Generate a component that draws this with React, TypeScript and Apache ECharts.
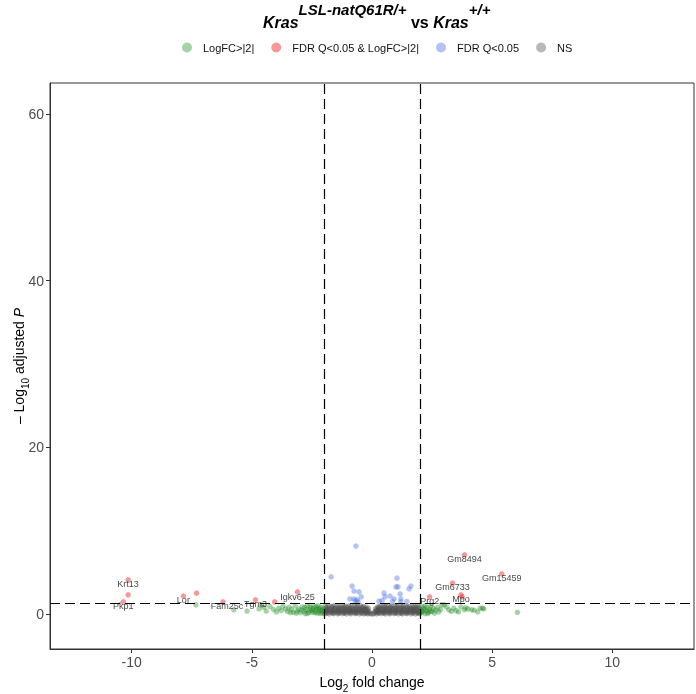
import React, { useEffect, useRef } from "react";
import * as echarts from "echarts";

// Tick labels
const xTicks = [-10, -5, 0, 5, 10];
const yTicks = [0, 20, 40, 60];

// Legend categories
const catGreen = "LogFC>|2|";
const catRed = "FDR Q<0.05 & LogFC>|2|";
const catBlue = "FDR Q<0.05";
const catGrey = "NS";

// Significant (red) points
const redX = [-10.15, -10.15, -10.35, -7.85, -7.3, -6.2, -4.85, -4.05, -3.1, 3.85, 5.4, 3.35, 3.7, 3.75, 2.4];
const redY = [4.1, 2.3, 1.45, 2.15, 2.5, 1.45, 1.7, 1.45, 2.65, 7.1, 4.8, 3.7, 2.3, 2.05, 2.05];
const redNames = ["Krt13", "", "Pkp1", "Lor", "", "Fam25c", "Tgm3", "", "Igkv6-25", "Gm8494", "Gm15459", "Gm6733", "Mpo", "", "Prg2"];

// FDR only (blue)
const bluePoints = [
  [-0.67, 8.15], [-1.7, 4.45], [-0.83, 3.35], [-0.75, 2.75], [-0.54, 2.65], [-0.92, 1.8], [-0.75, 1.8],
  [-0.62, 1.7], [-0.7, 1.55], [-0.45, 2.05], [-0.58, 1.45], [1.04, 4.3], [1.0, 3.25], [1.08, 3.25],
  [1.62, 3.35], [1.54, 3.0], [0.5, 2.5], [0.75, 2.15], [1.17, 2.4], [0.29, 1.55], [0.54, 2.05],
  [0.92, 1.8], [1.2, 1.8], [1.2, 1.45], [0.42, 1.6], [1.45, 1.5], [0.85, 1.5],
];

// LogFC only (green)
const greenPoints = [
  [-7.33, 1.1], [-5.75, 0.5], [-5.2, 0.35], [-4.7, 0.6], [-4.6, 1.05], [-4.5, 0.8], [-4.4, 0.35],
  [-4.25, 0.9], [-4.1, 0.55], [-3.98, 0.25], [-3.88, 0.7], [-3.78, 0.4], [-3.7, 0.95], [-3.6, 0.6],
  [-3.52, 0.3], [-3.45, 0.8], [-3.35, 0.55], [-3.28, 0.2], [-3.2, 0.95], [-3.12, 0.35], [-3.05, 0.6],
  [-2.98, 0.15], [-2.9, 0.85], [-2.83, 0.3], [-2.75, 0.5], [-2.7, 1.0], [-2.62, 0.2], [-2.55, 0.7],
  [-2.5, 0.4], [-2.42, 0.9], [-2.38, 0.15], [-2.35, 0.35], [-2.3, 0.6], [-2.25, 1.0], [-2.2, 0.25],
  [-2.15, 0.05], [-2.12, 0.8], [-2.1, 0.45], [-2.05, 0.1], [-2.05, 0.65], [-2.18, 0.5], [-2.28, 0.1],
  [-2.45, 0.6], [-2.6, 0.45], [-2.68, 0.05], [-2.8, 0.75], [-2.95, 0.45], [-3.15, 0.1], [-3.4, 0.15],
  [-2.08, 0.3], [-2.22, 0.7], [-2.33, 0.85], [-2.48, 0.2], [-2.58, 0.9], [-2.78, 0.05],
  [2.02, 0.1], [2.05, 0.5], [2.08, 0.9], [2.12, 0.3], [2.15, 0.7], [2.2, 0.05], [2.22, 1.0], [2.27, 0.4],
  [2.3, 0.75], [2.35, 0.2], [2.4, 0.55], [2.45, 0.95], [2.5, 0.3], [2.55, 0.65], [2.6, 0.1], [2.65, 0.45],
  [2.72, 0.8], [2.78, 0.25], [2.85, 0.55], [2.9, 1.1], [3.0, 1.1], [3.1, 0.85], [3.2, 0.5], [3.3, 0.3],
  [3.4, 0.7], [3.5, 0.4], [3.6, 0.25], [3.7, 0.85], [3.85, 0.5], [3.9, 0.75], [4.0, 0.6], [4.15, 0.5],
  [4.25, 0.45], [4.4, 0.25], [4.5, 0.7], [4.6, 0.7], [4.65, 0.6], [6.05, 0.2],
  [2.06, 0.25], [2.18, 0.55], [2.32, 0.05], [2.42, 0.3],
];

// Not significant (grey)
const greyPoints = [
  [-1.95, 0.92], [-1.82, 0.98], [-1.7, 0.9], [-1.58, 1.0], [-1.46, 0.95], [-1.33, 0.88], [-1.21, 1.02],
  [-1.1, 0.92], [-0.97, 0.98], [-0.85, 0.9], [-0.72, 1.04], [-0.6, 0.95], [-0.48, 1.0], [-0.36, 0.9],
  [-0.25, 0.85], [-0.15, 0.7], [0.14, 0.65], [0.24, 0.88], [0.35, 0.95], [0.47, 1.0], [0.58, 0.9],
  [0.7, 1.02], [0.82, 0.94], [0.94, 0.98], [1.06, 0.9], [1.18, 1.04], [1.3, 0.92], [1.42, 1.0],
  [1.55, 0.88], [1.67, 0.96], [1.79, 0.9], [1.9, 1.0],
  [-1.88, 0.82], [-1.64, 0.85], [-1.4, 0.8], [-1.16, 0.84], [-0.92, 0.8], [-0.66, 0.86], [-0.42, 0.8],
  [0.28, 0.78], [0.52, 0.84], [0.76, 0.8], [1.0, 0.86], [1.24, 0.8], [1.48, 0.84], [1.72, 0.8], [1.95, 0.85],
  [-1.9, 0.67], [-1.76, 0.63], [-1.64, 0.7], [-1.52, 0.65], [-1.4, 0.62], [-1.27, 0.69], [-1.15, 0.65],
  [-1.03, 0.71], [-0.91, 0.63], [-0.79, 0.67], [-0.66, 0.65], [-0.54, 0.7], [-0.42, 0.62], [-0.3, 0.65],
  [-0.2, 0.58], [0.2, 0.56], [0.3, 0.65], [0.41, 0.69], [0.53, 0.63], [0.64, 0.67], [0.76, 0.71],
  [0.88, 0.65], [1.0, 0.62], [1.12, 0.69], [1.24, 0.65], [1.36, 0.7], [1.49, 0.63], [1.61, 0.67],
  [1.73, 0.65], [1.85, 0.69], [1.97, 0.63],
  [-1.84, 0.55], [-1.58, 0.52], [-1.32, 0.56], [-1.06, 0.53], [-0.8, 0.55], [-0.55, 0.52], [-0.3, 0.54],
  [0.33, 0.52], [0.58, 0.55], [0.83, 0.53], [1.08, 0.56], [1.33, 0.52], [1.58, 0.55], [1.83, 0.53],
  [-1.97, 0.42], [-1.85, 0.46], [-1.73, 0.4], [-1.61, 0.44], [-1.49, 0.47], [-1.37, 0.4], [-1.25, 0.44],
  [-1.13, 0.42], [-1.01, 0.46], [-0.89, 0.39], [-0.77, 0.44], [-0.65, 0.42], [-0.53, 0.47], [-0.41, 0.4],
  [-0.29, 0.42], [-0.18, 0.36], [-0.12, 0.3], [0.11, 0.28], [0.17, 0.38], [0.27, 0.42], [0.39, 0.45],
  [0.5, 0.4], [0.62, 0.44], [0.74, 0.42], [0.86, 0.47], [0.97, 0.39], [1.09, 0.44], [1.21, 0.42],
  [1.33, 0.46], [1.45, 0.4], [1.57, 0.44], [1.69, 0.42], [1.81, 0.45], [1.93, 0.39],
  [-1.9, 0.32], [-1.66, 0.3], [-1.42, 0.33], [-1.18, 0.31], [-0.94, 0.32], [-0.7, 0.3], [-0.46, 0.33],
  [0.26, 0.31], [0.5, 0.32], [0.74, 0.3], [0.98, 0.33], [1.22, 0.31], [1.46, 0.32], [1.7, 0.3], [1.94, 0.33],
  [-1.93, 0.2], [-1.8, 0.23], [-1.68, 0.18], [-1.55, 0.22], [-1.43, 0.2], [-1.31, 0.24], [-1.19, 0.18],
  [-1.07, 0.21], [-0.95, 0.2], [-0.83, 0.23], [-0.71, 0.18], [-0.59, 0.22], [-0.47, 0.2], [-0.35, 0.24],
  [-0.23, 0.18], [-0.14, 0.16], [0.13, 0.15], [0.22, 0.2], [0.33, 0.23], [0.45, 0.18], [0.56, 0.21],
  [0.68, 0.2], [0.8, 0.24], [0.91, 0.18], [1.03, 0.22], [1.15, 0.2], [1.27, 0.23], [1.39, 0.18],
  [1.51, 0.21], [1.63, 0.2], [1.75, 0.24], [1.87, 0.18], [1.98, 0.22],
  [-1.86, 0.1], [-1.62, 0.11], [-1.38, 0.09], [-1.14, 0.1], [-0.9, 0.12], [-0.66, 0.09], [-0.42, 0.1],
  [-0.26, 0.08], [0.28, 0.1], [0.5, 0.09], [0.74, 0.11], [0.98, 0.1], [1.22, 0.08], [1.46, 0.11],
  [1.7, 0.1], [1.92, 0.09],
  [-1.96, 0.02], [-1.78, 0.0], [-1.6, 0.03], [-1.42, 0.01], [-1.24, 0.04], [-1.06, 0.0], [-0.88, 0.02],
  [-0.7, 0.03], [-0.52, 0.0], [-0.34, 0.02], [-0.18, 0.01], [-0.07, 0.03], [0.0, 0.0], [0.06, 0.02],
  [0.19, 0.01], [0.37, 0.03], [0.55, 0.0], [0.73, 0.02], [0.91, 0.04], [1.09, 0.01], [1.27, 0.0],
  [1.45, 0.03], [1.63, 0.02], [1.81, 0.0], [1.97, 0.03],
];

const labelOffsets: Record<string, number[]> = {
  Krt13: [0, 4], Pkp1: [0, 4], Lor: [0, 4], Fam25c: [4, 4], Tgm3: [0, 4], "Igkv6-25": [0, 5],
  Gm8494: [0, 4], Gm15459: [0, 4], Gm6733: [0, 4], Mpo: [0, 4], Prg2: [0, 4],
};

const COL_GREY = "rgba(77,77,77,0.5)";
const COL_GREEN = "rgba(34,139,34,0.5)";
const COL_BLUE = "rgba(65,105,225,0.5)";
const COL_RED = "rgba(238,0,0,0.5)";

export default function App() {
  const ref = useRef<HTMLDivElement>(null);
  useEffect(() => {
    if (!ref.current) return;
    const chart = echarts.init(ref.current, undefined, { renderer: "svg" });
    const font = "Liberation Sans, Arial, sans-serif";
    const redData = redX.map((x, i) => {
      const name = redNames[i];
      return {
        value: [x, redY[i]],
        name,
        label: name
          ? {
              show: true,
              formatter: name,
              position: "inside",
              offset: labelOffsets[name] || [0, 4],
              color: "#111",
              fontSize: 9,
              fontFamily: font,
            }
          : { show: false },
      };
    });
    const sym = 5.5;
    chart.setOption({
      animation: false,
      title: {
        text: "{a|Kras}{s|LSL-natQ61R/+}{b| vs }{a|Kras}{s|+/+}",
        left: 258,
        top: -3,
        textStyle: {
          rich: {
            a: { fontSize: 16, fontWeight: "bold", fontStyle: "italic", fontFamily: font, color: "#000", verticalAlign: "bottom", lineHeight: 28 },
            b: { fontSize: 16, fontWeight: "bold", fontFamily: font, color: "#000", verticalAlign: "bottom", lineHeight: 28 },
            s: { fontSize: 15, fontWeight: "bold", fontStyle: "italic", fontFamily: font, color: "#000", verticalAlign: "top", lineHeight: 28 },
          },
        },
      },
      legend: {
        data: [catGreen, catRed, catBlue, catGrey],
        left: 177,
        top: 37,
        icon: "circle",
        itemWidth: 10,
        itemHeight: 10,
        itemGap: 17,
        textStyle: { fontSize: 11, color: "#111", fontFamily: font, padding: [0, 0, 0, 6] },
      },
      grid: {
        left: 50, right: 2, top: 83, bottom: 45, show: true, borderColor: "#333", borderWidth: 1,
        containLabel: false, outerBoundsMode: "none",
      },
      xAxis: {
        type: "value",
        min: -13.4,
        max: 13.4,
        name: "Log{s|2} fold change",
        nameLocation: "middle",
        nameGap: 22,
        nameTextStyle: {
          fontSize: 14,
          color: "#000",
          fontFamily: font,
          rich: {
            s: { fontSize: 10, fontFamily: font, color: "#000", verticalAlign: "bottom", lineHeight: 22 },
          },
        },
        splitLine: { show: false },
        axisLine: { show: true, onZero: false, lineStyle: { color: "#333" } },
        axisTick: { show: true, length: 4, customValues: xTicks, lineStyle: { color: "#333" } },
        axisLabel: { customValues: xTicks, fontSize: 14, color: "#4d4d4d", fontFamily: font, margin: 6 },
      },
      yAxis: {
        type: "value",
        min: -4.2,
        max: 63.7,
        name: "– Log{s|10} adjusted {i|P}",
        nameLocation: "middle",
        nameGap: 20,
        nameMoveOverlap: false,
        nameTextStyle: {
          fontSize: 14,
          color: "#000",
          fontFamily: font,
          rich: {
            s: { fontSize: 10, fontFamily: font, color: "#000", verticalAlign: "bottom", lineHeight: 22 },
            i: { fontSize: 14, fontStyle: "italic", fontFamily: font, color: "#000" },
          },
        },
        splitLine: { show: false },
        axisLine: { show: true, onZero: false, lineStyle: { color: "#333" } },
        axisTick: { show: true, length: 4, customValues: yTicks, lineStyle: { color: "#333" } },
        axisLabel: { customValues: yTicks, fontSize: 14, color: "#4d4d4d", fontFamily: font, margin: 6 },
      },
      series: [
        {
          name: catGrey,
          type: "scatter",
          symbolSize: sym,
          itemStyle: { color: COL_GREY },
          data: greyPoints,
          z: 2,
          markLine: {
            silent: true,
            symbol: ["none", "none"],
            label: { show: false },
            lineStyle: { color: "#000", type: [10, 5], width: 1.2 },
            data: [{ xAxis: -2 }, { xAxis: 2 }, { yAxis: 1.3 }],
          },
        },
        { name: catGreen, type: "scatter", symbolSize: sym, itemStyle: { color: COL_GREEN }, data: greenPoints, z: 3 },
        { name: catBlue, type: "scatter", symbolSize: sym, itemStyle: { color: COL_BLUE }, data: bluePoints, z: 3 },
        { name: catRed, type: "scatter", symbolSize: sym, itemStyle: { color: COL_RED }, data: redData, z: 4 },
      ],
    });
    return () => chart.dispose();
  }, []);
  return <div ref={ref} style={{ position: "fixed", left: 0, top: 0, width: 696, height: 694 }} />;
}
